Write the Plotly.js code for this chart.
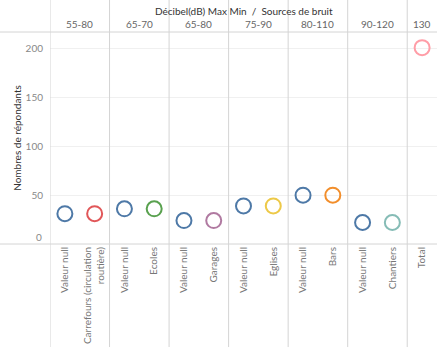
<!DOCTYPE html>
<html>
<head>
<meta charset="utf-8">
<script src="https://cdn.plot.ly/plotly-3.0.1.min.js"></script>
<style>html,body{margin:0;padding:0;background:#fff;}#chart{width:443px;height:351px;}</style>
</head>
<body>
<div id="chart"></div>
<script>
// ---- data ----
var catGroup = ['55-80','55-80','65-70','65-70','65-80','65-80','75-90','75-90','80-110','80-110','90-120','90-120','130'];
var catSource = ['Valeur null','Carrefours (circulation routière)','Valeur null','Ecoles','Valeur null','Garages','Valeur null','Eglises','Valeur null','Bars','Valeur null','Chantiers','Total'];
var respondents = [31,31,36,36,24,24,39,39,50,50,22,22,201];
var sourceNames = ['Valeur null','Carrefours (circulation routière)','Ecoles','Garages','Eglises','Bars','Chantiers','Total'];
var sourceColors = ['#4e79a7','#e15759','#59a14f','#b07aa1','#edc948','#f28e2b','#86bcb6','#ff9da7'];
var yTicks = [0,50,100,150,200];
var titleText = 'Décibel(dB) Max Min  /  Sources de bruit';
var yTitle = 'Nombres de répondants';

// ---- build ----
var FONT = 'Lato, "Open Sans", sans-serif';
var keys = catGroup.map(function(g,i){return g+'|'+catSource[i];});
function wrap(s){
  if (s.length <= 24) return s;
  var words = s.split(' '), lines=[], cur='';
  words.forEach(function(w){
    if ((cur+' '+w).trim().length > 23 && cur){lines.push(cur); cur=w;} else {cur=(cur?cur+' ':'')+w;}
  });
  lines.push(cur);
  return lines.join('<br>');
}
var tickText = catSource.map(wrap);
var colors = catSource.map(function(s){return sourceColors[sourceNames.indexOf(s)];});

var trace = {
  type:'scatter', mode:'markers',
  x: keys, y: respondents,
  marker:{symbol:'circle-open', size:15, color:colors, line:{width:2}},
  hoverinfo:'x+y', showlegend:false
};

var groups = [];
catGroup.forEach(function(g,i){
  if (!groups.length || groups[groups.length-1].name !== g) groups.push({name:g, start:i, end:i});
  else groups[groups.length-1].end = i;
});

var shapes = [];
var annotations = [];
var lineCol = '#d4d4d4';
groups.forEach(function(gr){
  shapes.push({type:'line', xref:'x', yref:'paper', x0:gr.start-0.5, x1:gr.start-0.5, y0:-0.486, y1:1.16, line:{color:lineCol, width:1}});
  annotations.push({xref:'x', yref:'paper', x:(gr.start+gr.end)/2, y:1, yanchor:'middle', yshift:8,
    text:gr.name, showarrow:false, font:{family:FONT, size:10, color:'#666'}});
});
shapes.push({type:'line', xref:'paper', yref:'paper', x0:-0.13, x1:1, y0:1, y1:1, line:{color:lineCol, width:1}});
shapes.push({type:'line', xref:'paper', yref:'paper', x0:-0.13, x1:1, y0:0, y1:0, line:{color:lineCol, width:1}});
annotations.push({xref:'paper', yref:'paper', x:0.5, y:1, yanchor:'middle', yshift:21, text:titleText,
  showarrow:false, font:{family:FONT, size:10, color:'#333'}});
annotations.push({xref:'paper', yref:'y', x:0, xanchor:'right', xshift:-6, y:yTicks[0], yanchor:'middle', yshift:7,
  text:String(yTicks[0]), showarrow:false, font:{family:FONT, size:10, color:'#888'}});

var layout = {
  width:443, height:351,
  margin:{l:50, r:6, t:32, b:107},
  paper_bgcolor:'#fff', plot_bgcolor:'#fff',
  font:{family:FONT},
  xaxis:{type:'category', categoryorder:'array', categoryarray:keys, tickvals:keys, ticktext:tickText,
    tickangle:-90, showgrid:false, zeroline:false, showline:false, ticks:'',
    tickfont:{family:FONT, size:10, color:'#777'}, range:[-0.5, keys.length-0.5]},
  yaxis:{range:[0,217], tickvals:yTicks.slice(1), showgrid:true, gridcolor:'#f0f0f0', zeroline:false, showline:false,
    ticks:'outside', ticklen:4, tickcolor:'rgba(0,0,0,0)',
    tickfont:{family:FONT, size:10, color:'#888'},
    title:{text:yTitle, font:{family:FONT, size:10, color:'#333'}, standoff:2}},
  shapes:shapes, annotations:annotations,
  hovermode:'closest'
};
Plotly.newPlot('chart', [trace], layout, {displayModeBar:false, staticPlot:true});
</script>
</body>
</html>
